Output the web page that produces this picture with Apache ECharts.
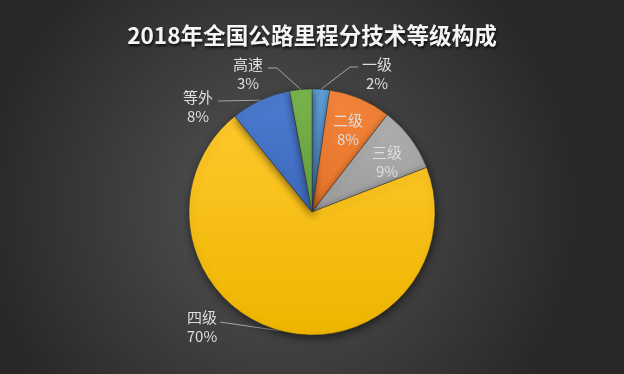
<!DOCTYPE html>
<html>
<head>
<meta charset="utf-8">
<script src="https://cdn.jsdelivr.net/npm/echarts@6/dist/echarts.min.js"></script>
<style>
html,body{margin:0;padding:0;background:#333;}
#c{width:624px;height:374px;}
</style>
</head>
<body>
<div id="c"></div>
<script>
// Data
var titleText = '2018年全国公路里程分技术等级构成';
var categories = ['一级', '二级', '三级', '四级', '等外', '高速'];
var shares = [2.3, 8.2, 8.6, 70.1, 7.9, 2.9];
var colorsTop = ['#62a3dd', '#f4853a', '#b0b0b0', '#ffc82c', '#4b7bd0', '#79b54e'];
var colorsBottom = ['#5594cd', '#e5732a', '#9c9c9c', '#eeb500', '#3e69bb', '#67a23f'];

// Label layout (block centre, bend point, end point of leader)
var labelLayoutCfg = [
  {x: 377, y: 74, bend: [350, 67], end: [358, 67], line: true},
  {x: 348, y: 130, line: false},
  {x: 387, y: 162, line: false},
  {x: 202, y: 327, bend: [220, 322], end: [220, 322], line: true},
  {x: 198, y: 107, bend: [218, 101], end: [218, 101], line: true},
  {x: 248, y: 74, bend: [277, 68], end: [268, 68], line: true}
];

var chart = echarts.init(document.getElementById('c'), null, {renderer: 'canvas'});

var data = categories.map(function (name, i) {
  return {
    name: name,
    value: shares[i],
    itemStyle: {
      color: new echarts.graphic.LinearGradient(0, 0, 0, 1, [
        {offset: 0, color: colorsTop[i]},
        {offset: 1, color: colorsBottom[i]}
      ])
    },
    labelLine: {show: labelLayoutCfg[i].line}
  };
});

var option = {
  backgroundColor: {
    type: 'radial', x: 0.45, y: 0.55, r: 0.8,
    colorStops: [
      {offset: 0, color: '#565656'},
      {offset: 1, color: '#282828'}
    ]
  },
  title: {
    text: titleText,
    left: 'center',
    top: 19,
    textStyle: {
      fontFamily: '"Noto Sans CJK SC", sans-serif',
      fontSize: 22.6,
      fontWeight: 'bold',
      color: '#f5f5f5',
      textShadowColor: 'rgba(0,0,0,0.8)',
      textShadowBlur: 3,
      textShadowOffsetX: 1,
      textShadowOffsetY: 2
    }
  },
  series: [{
    type: 'pie',
    center: [312, 212],
    radius: 123,
    startAngle: 90,
    clockwise: true,
    percentPrecision: 0,
    silent: true,
    animation: false,
    itemStyle: {
      borderColor: 'rgba(50,50,50,0.6)',
      borderWidth: 0.8,
      shadowColor: 'rgba(0,0,0,0.55)',
      shadowBlur: 8,
      shadowOffsetX: 1,
      shadowOffsetY: 3
    },
    label: {
      show: true,
      position: 'outside',
      formatter: '{b}\n{d}%',
      color: '#dedede',
      fontFamily: '"Noto Sans CJK SC", sans-serif',
      fontSize: 15,
      lineHeight: 19,
      align: 'center'
    },
    labelLine: {
      show: true,
      length: 15,
      length2: 10,
      lineStyle: {color: '#a6a6a6', width: 1}
    },
    labelLayout: function (params) {
      var cfg = labelLayoutCfg[params.dataIndex];
      var out = {x: cfg.x, y: cfg.y, align: 'center', verticalAlign: 'middle'};
      if (cfg.line && params.labelLinePoints && params.labelLinePoints.length) {
        var p0 = params.labelLinePoints[0];
        out.labelLinePoints = [[p0[0], p0[1]], cfg.bend, cfg.end];
      }
      return out;
    },
    data: data
  }]
};
chart.setOption(option);
</script>
</body>
</html>
